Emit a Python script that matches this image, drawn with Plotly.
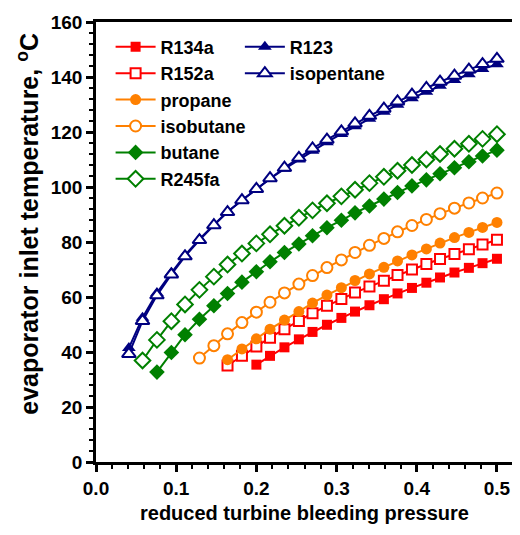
import plotly.graph_objects as go

# reduced turbine bleeding pressure grid (shared by all fluids)
pressure = [0.041, 0.058, 0.076, 0.094, 0.111, 0.129, 0.147, 0.164, 0.182,
            0.200, 0.217, 0.235, 0.253, 0.270, 0.288, 0.306, 0.323, 0.341,
            0.359, 0.376, 0.394, 0.412, 0.429, 0.447, 0.465, 0.482, 0.500]

# evaporator inlet temperature, degC (each series ends at the last grid point)
t_r134a = [35.4, 38.6, 41.7, 44.6, 47.3, 49.9, 52.4, 54.7, 57.0, 59.2, 61.3,
           63.3, 65.2, 67.1, 68.9, 70.6, 72.3, 73.9]
t_r152a = [35.1, 38.6, 42.0, 45.2, 48.3, 51.3, 54.1, 56.8, 59.3, 61.6, 63.8,
           65.9, 68.0, 70.0, 72.0, 73.8, 75.6, 77.4, 79.1, 80.8]
t_propane = [37.2, 41.1, 44.8, 48.3, 51.6, 54.7, 57.8, 60.7, 63.4, 66.0, 68.4,
             70.8, 73.1, 75.3, 77.5, 79.6, 81.6, 83.5, 85.3, 87.1]
t_isobutane = [37.8, 42.3, 46.6, 50.7, 54.5, 58.1, 61.5, 64.7, 67.8, 70.7, 73.5,
               76.2, 78.8, 81.3, 83.7, 86.0, 88.2, 90.3, 92.3, 94.2, 96.0, 97.8]
t_butane = [32.7, 39.8, 46.3, 51.9, 56.8, 61.3, 65.4, 69.2, 72.8, 76.2, 79.3,
            82.3, 85.2, 87.9, 90.6, 93.1, 95.6, 98.0, 100.4, 102.6, 104.8,
            107.0, 109.2, 111.3, 113.4]
t_r245fa = [36.9, 44.4, 51.2, 57.3, 62.6, 67.4, 71.8, 75.8, 79.5, 82.8, 85.9,
            88.8, 91.5, 94.1, 96.6, 99.0, 101.4, 103.7, 105.9, 108.0, 110.0,
            112.0, 113.9, 115.7, 117.5, 119.2]
t_r123 = [41.5, 52.5, 61.5, 68.8, 75.2, 81.0, 86.3, 91.0, 95.2, 99.2, 103.0,
          106.6, 110.0, 113.2, 116.3, 119.3, 122.1, 124.8, 127.4, 129.9, 132.3,
          134.6, 136.8, 138.9, 141.0, 142.9, 144.6]
t_isopentane = [39.3, 51.3, 60.6, 68.2, 74.8, 80.7, 86.1, 90.9, 95.2, 99.3,
                103.2, 107.0, 110.6, 114.0, 117.2, 120.2, 123.1, 125.9, 128.5,
                131.1, 133.6, 136.0, 138.3, 140.5, 142.7, 144.7, 146.6]

x_ticks = [0.0, 0.1, 0.2, 0.3, 0.4, 0.5]
x_ticklabels = ["0.0", "0.1", "0.2", "0.3", "0.4", "0.5"]
y_ticks = [0, 20, 40, 60, 80, 100, 120, 140, 160]

RED = "#FF0000"
ORANGE = "#FF8000"
GREEN = "#008000"
NAVY = "#000080"

series = [
    ("R134a", t_r134a, RED, "square", True, 10, "legend"),
    ("R152a", t_r152a, RED, "square", False, 10, "legend"),
    ("propane", t_propane, ORANGE, "circle", True, 11, "legend"),
    ("isobutane", t_isobutane, ORANGE, "circle", False, 11, "legend"),
    ("butane", t_butane, GREEN, "diamond", True, 12, "legend"),
    ("R245fa", t_r245fa, GREEN, "diamond", False, 12, "legend"),
    ("R123", t_r123, NAVY, "triangle-up", True, 12, "legend2"),
    ("isopentane", t_isopentane, NAVY, "triangle-up", False, 12, "legend2"),
]

fig = go.Figure()
for name, t, color, sym, filled, size, leg in series:
    xs = pressure[-len(t):]
    marker = dict(symbol=sym, size=size, color=color if filled else "white",
                  line=dict(color=color, width=0 if filled else 2))
    fig.add_trace(go.Scatter(
        x=xs, y=t, name=name, mode="lines+markers",
        line=dict(color=color, width=2),
        marker=marker, legend=leg,
    ))

FONT = "Liberation Sans, Arial, sans-serif"

# page body has an 8px margin, so the figure is 8px smaller than the window
fig.update_layout(
    width=512, height=527,
    margin=dict(l=88, r=4, t=10, b=73),
    paper_bgcolor="white", plot_bgcolor="white",
    font=dict(family=FONT, color="black", size=18),
    legend=dict(x=0.035, y=0.985, xanchor="left", yanchor="top",
                bgcolor="rgba(0,0,0,0)", tracegroupgap=0,
                font=dict(family=FONT, size=18, color="black", weight="bold"),
                itemwidth=40),
    legend2=dict(x=0.345, y=0.985, xanchor="left", yanchor="top",
                 bgcolor="rgba(0,0,0,0)", tracegroupgap=0,
                 font=dict(family=FONT, size=18, color="black", weight="bold"),
                 itemwidth=40),
    showlegend=True,
)

fig.update_xaxes(
    range=[0, 0.52], tickvals=x_ticks, ticktext=x_ticklabels,
    showgrid=False, zeroline=False,
    showline=True, linecolor="black", linewidth=2.5, mirror=True,
    ticks="outside", ticklen=7, tickwidth=2.5, tickcolor="black",
    ticklabeloverflow="allow",
    tickfont=dict(family=FONT, size=19, color="black", weight="bold"),
    minor=dict(dtick=0.02, ticks="outside", ticklen=4, tickwidth=2, tickcolor="black", showgrid=False),
)
fig.update_yaxes(
    range=[0, 160], tickvals=y_ticks,
    showgrid=False, zeroline=False,
    showline=True, linecolor="black", linewidth=2.5, mirror=True,
    ticks="outside", ticklen=7, tickwidth=2.5, tickcolor="black",
    ticklabeloverflow="allow",
    tickfont=dict(family=FONT, size=19, color="black", weight="bold"),
    minor=dict(dtick=4, ticks="outside", ticklen=4, tickwidth=2, tickcolor="black", showgrid=False),
)

fig.add_annotation(
    text="reduced turbine bleeding pressure", xref="paper", yref="paper",
    x=0.5, y=-0.115, xanchor="center", yanchor="middle", showarrow=False,
    font=dict(family=FONT, size=20, color="black", weight="bold"),
)
fig.add_annotation(
    text="evaporator inlet temperature, <sup>o</sup>C", xref="paper", yref="paper",
    x=-0.165, y=0.542, xanchor="center", yanchor="middle", showarrow=False,
    textangle=-90,
    font=dict(family=FONT, size=25, color="black", weight="bold"),
)

fig.write_html("out.html")
